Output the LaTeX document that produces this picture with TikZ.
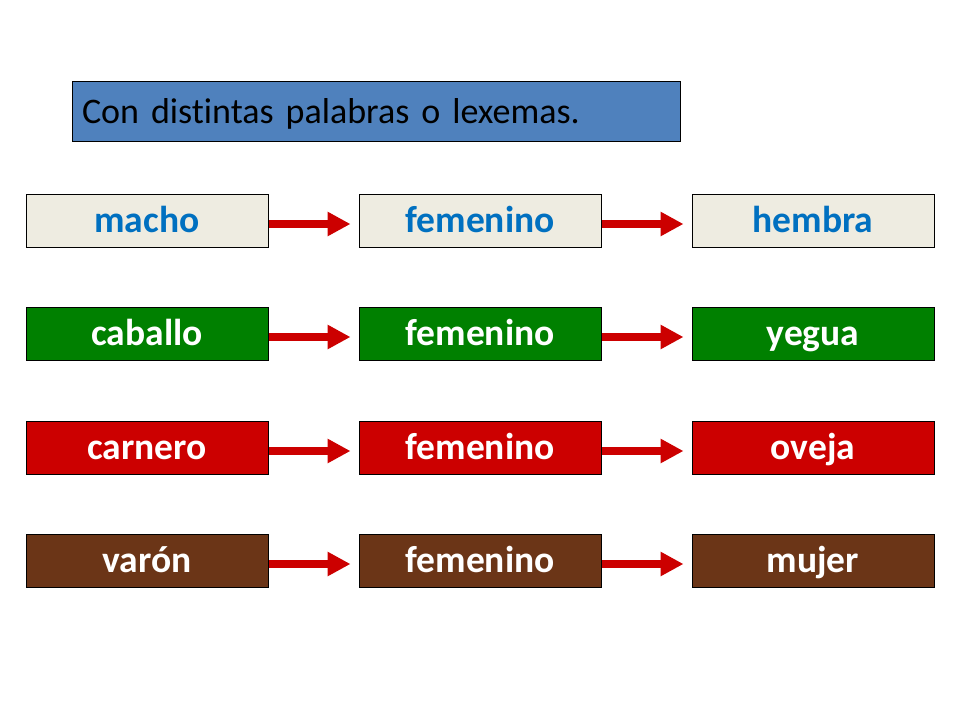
\documentclass[tikz,border=0pt]{standalone}
\usepackage{fontspec}
\setmainfont{Carlito}[Ligatures={NoCommon}]
\usepackage{xcolor}
\usetikzlibrary{arrows.meta}
\definecolor{hdrblue}{HTML}{4F81BD}
\definecolor{paleback}{HTML}{EEECE1}
\definecolor{wordblue}{HTML}{0070C0}
\definecolor{boxgreen}{HTML}{008000}
\definecolor{boxred}{HTML}{CC0000}
\definecolor{boxbrown}{HTML}{6B3517}
\definecolor{arrred}{HTML}{CC0000}

\begin{document}
\begin{tikzpicture}[x=1pt, y=-1pt,
    word/.style={draw=black, line width=1pt, minimum width=242pt, minimum height=53pt,
      inner sep=0pt, text height=26pt, text depth=1.6pt,
      font=\fontsize{37.5}{40}\selectfont\bfseries, text=white},
    pale/.style={word, fill=paleback, text=wordblue},
    green/.style={word, fill=boxgreen},
    red/.style={word, fill=boxred},
    brown/.style={word, fill=boxbrown},
    link/.style={draw=arrred, line width=7.5pt, shorten >=8pt,
      -{Triangle[length=23pt, width=23pt]}}]
  \useasboundingbox (0, 0) rectangle (960, 720);

  \node [draw=black, line width=1pt, fill=hdrblue, minimum width=608pt, minimum height=60pt,
    inner xsep=10pt, inner ysep=0pt, text width=588pt, align=left,
    text height=26pt, text depth=1.6pt, font=\fontsize{36}{40}\selectfont] (title) at (376, 111)
    {Con distintas palabras o lexemas.};

  \node [pale] (macho) at (147, 220.5) {macho};
  \node [pale] (fem1) at (480, 220.5) {femenino};
  \node [pale] (hembra) at (813, 220.5) {hembra};

  \node [green] (caballo) at (147, 333.5) {caballo};
  \node [green] (fem2) at (480, 333.5) {femenino};
  \node [green] (yegua) at (813, 333.5) {yegua};

  \node [red] (carnero) at (147, 447.5) {carnero};
  \node [red] (fem3) at (480, 447.5) {femenino};
  \node [red] (oveja) at (813, 447.5) {oveja};

  \node [brown] (varon) at (147, 560.5) {varón};
  \node [brown] (fem4) at (480, 560.5) {femenino};
  \node [brown] (mujer) at (813, 560.5) {mujer};

  % arrows sit a little below the box centres
  \draw [link] ([yshift=-3.5pt]macho.east) -- ([yshift=-3.5pt]fem1.west);
  \draw [link] ([yshift=-3.5pt]fem1.east) -- ([yshift=-3.5pt]hembra.west);
  \draw [link] ([yshift=-3.5pt]caballo.east) -- ([yshift=-3.5pt]fem2.west);
  \draw [link] ([yshift=-3.5pt]fem2.east) -- ([yshift=-3.5pt]yegua.west);
  \draw [link] ([yshift=-3.5pt]carnero.east) -- ([yshift=-3.5pt]fem3.west);
  \draw [link] ([yshift=-3.5pt]fem3.east) -- ([yshift=-3.5pt]oveja.west);
  \draw [link] ([yshift=-3.5pt]varon.east) -- ([yshift=-3.5pt]fem4.west);
  \draw [link] ([yshift=-3.5pt]fem4.east) -- ([yshift=-3.5pt]mujer.west);
\end{tikzpicture}
\end{document}
